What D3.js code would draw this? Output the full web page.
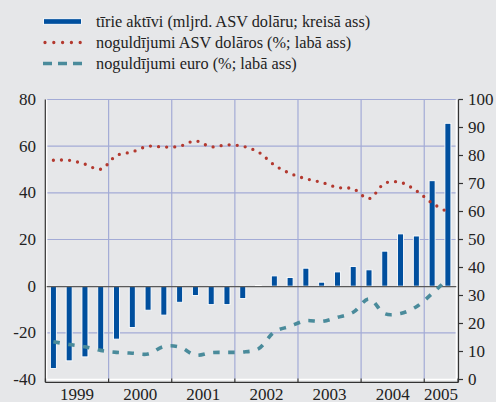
<!DOCTYPE html>
<html>
<head>
<meta charset="utf-8">
<script src="https://cdn.jsdelivr.net/npm/d3@7/dist/d3.min.js"></script>
<style>
  html, body { margin: 0; padding: 0; background: #e6e7e9; }
  svg { display: block; }
</style>
</head>
<body>
<svg id="chart" width="496" height="402"></svg>
<script>
// Quarter positions (fractional years, quarter centres), 1999 Q1 – 2005 Q2
const quarters = [
  1999.125, 1999.375, 1999.625, 1999.875,
  2000.125, 2000.375, 2000.625, 2000.875,
  2001.125, 2001.375, 2001.625, 2001.875,
  2002.125, 2002.375, 2002.625, 2002.875,
  2003.125, 2003.375, 2003.625, 2003.875,
  2004.125, 2004.375, 2004.625, 2004.875,
  2005.125, 2005.375
];

// Net assets, bn USD (left axis)
const netAssets = [
  -35.3, -32.0, -30.3, -27.2,
  -22.7, -17.7, -10.3, -12.4,
  -6.9, -4.0, -7.9, -7.9,
  -5.3, 0.3, 4.4, 3.7,
  7.7, 1.7, 6.1, 8.4,
  7.0, 15.0, 22.4, 21.5,
  45.2, 69.8
];

// Share of deposits in USD, % (right axis)
const usdShare = [
  78.3, 78.3, 76.9, 75.1,
  80.0, 81.3, 83.3, 83.0,
  83.3, 85.2, 83.1, 83.8,
  83.3, 81.2, 76.6, 73.6,
  71.7, 70.4, 68.6, 68.1,
  64.6, 70.1, 70.4, 67.4,
  63.0, 59.8
];

// Share of deposits in euro, % (right axis)
const eurShare = [
  13.5, 12.5, 11.7, 10.4,
  9.7, 9.4, 9.1, 11.8,
  11.6, 8.7, 9.6, 9.7,
  9.8, 11.0, 17.0, 19.0,
  21.0, 20.7, 22.2, 24.0,
  28.8, 23.5, 23.6, 26.0,
  30.7, 36.0
];

const years = [1999, 2000, 2001, 2002, 2003, 2004, 2005];
const leftTicks = [-40, -20, 0, 20, 40, 60, 80];
const rightTicks = [0, 10, 20, 30, 40, 50, 60, 70, 80, 90, 100];

const legendLabels = [
  "tīrie aktīvi (mljrd. ASV dolāru; kreisā ass)",
  "noguldījumi ASV dolāros (%; labā ass)",
  "noguldījumi euro (%; labā ass)"
];

const colors = {
  bar: "#004f9e",
  usd: "#b3392f",
  eur: "#4a8b9b",
  grid: "#a3abd6",
  axis: "#333333",
  text: "#222222"
};
const FONT = "'Liberation Serif', 'Times New Roman', Times, 'DejaVu Serif', serif";

const svg = d3.select("#chart");

const xEnd = 2005.535;
const x = d3.scaleLinear().domain([1999, xEnd]).range([45.5, 458]);
const yL = d3.scaleLinear().domain([-40, 80]).range([379.5, 99.5]);
const yR = d3.scaleLinear().domain([0, 100]).range([379.5, 99.5]);

const plotL = 46.7, plotR = 456.3, plotT = yL(80), plotB = 379.5;

// Grid
const grid = svg.append("g");
grid.selectAll("line.h")
  .data(leftTicks.filter(d => d !== -40 && d !== 0))
  .join("line")
  .attr("x1", plotL).attr("x2", plotR)
  .attr("y1", d => yL(d)).attr("y2", d => yL(d))
  .attr("stroke", colors.grid).attr("stroke-width", 1.2);
grid.selectAll("line.v")
  .data(years.slice(1))
  .join("line")
  .attr("x1", d => x(d)).attr("x2", d => x(d))
  .attr("y1", plotT).attr("y2", plotB)
  .attr("stroke", colors.grid).attr("stroke-width", 1.2);

// White frame inside the axes
svg.append("path")
  .attr("d", `M${plotL},${plotT}V${plotB}H${plotR}V${plotT}`)
  .attr("fill", "none").attr("stroke", "#ffffff").attr("stroke-width", 1.3);

// Bars
const barW = 6;
svg.append("g").selectAll("rect")
  .data(quarters.map((q, i) => ({ q, v: netAssets[i] })))
  .join("rect")
  .attr("x", d => x(d.q) - barW / 2)
  .attr("width", barW)
  .attr("y", d => Math.min(yL(d.v), yL(0)))
  .attr("height", d => Math.max(0.6, Math.abs(yL(d.v) - yL(0))))
  .attr("fill", colors.bar)
  .attr("stroke", "#ffffff").attr("stroke-width", 0.9);

// Zero line
svg.append("line")
  .attr("x1", plotL).attr("x2", plotR)
  .attr("y1", yL(0) + 0.5).attr("y2", yL(0) + 0.5)
  .attr("stroke", "#5a5a5a").attr("stroke-width", 1.3);

// Lines
const line = d3.line()
  .x(d => x(d.q)).y(d => yR(d.v))
  .curve(d3.curveCatmullRom.alpha(0.5));

svg.append("path")
  .datum(quarters.map((q, i) => ({ q, v: eurShare[i] })))
  .attr("d", line)
  .attr("fill", "none")
  .attr("stroke", colors.eur).attr("stroke-width", 3.6)
  .attr("stroke-dasharray", "6.5,8.5");

svg.append("path")
  .datum(quarters.map((q, i) => ({ q, v: usdShare[i] })))
  .attr("d", line)
  .attr("fill", "none")
  .attr("stroke", colors.usd).attr("stroke-width", 3.3)
  .attr("stroke-linecap", "round")
  .attr("stroke-dasharray", "0,8.1");

// Axes lines
const axisG = svg.append("g").attr("stroke", colors.axis).attr("stroke-width", 1.2);
axisG.append("line").attr("x1", 45.3).attr("x2", 45.3).attr("y1", plotT).attr("y2", 382.3);
axisG.append("line").attr("x1", 458.5).attr("x2", 458.5).attr("y1", plotT).attr("y2", 382.3);
axisG.append("line").attr("x1", 45.3).attr("x2", 458.5).attr("y1", 382.3).attr("y2", 382.3);

// Bottom ticks at year boundaries
axisG.selectAll("line.xt")
  .data(years.concat([xEnd]))
  .join("line")
  .attr("x1", d => Math.max(45.3, Math.min(x(d), 458.5)))
  .attr("x2", d => Math.max(45.3, Math.min(x(d), 458.5)))
  .attr("y1", 378.5).attr("y2", 382.3);

// Right ticks
axisG.selectAll("line.rt")
  .data(rightTicks)
  .join("line")
  .attr("x1", 458.5).attr("x2", 463)
  .attr("y1", d => yR(d)).attr("y2", d => yR(d));

const txt = (size) => (sel) => sel
  .attr("font-family", FONT)
  .attr("fill", colors.text)
  .attr("font-size", size);

// Left tick labels
svg.append("g").selectAll("text")
  .data(leftTicks)
  .join("text")
  .call(txt(17))
  .attr("x", 36).attr("y", d => yL(d) + 5.5)
  .attr("text-anchor", "end")
  .text(d => d);

// Right tick labels
svg.append("g").selectAll("text")
  .data(rightTicks)
  .join("text")
  .call(txt(17))
  .attr("x", 468).attr("y", d => yR(d) + 5.5)
  .attr("text-anchor", "start")
  .text(d => d);

// Year labels, centred on each year's span
svg.append("g").selectAll("text")
  .data(years)
  .join("text")
  .call(txt(17))
  .attr("x", d => x((d + Math.min(d + 1, xEnd)) / 2))
  .attr("y", 399.5)
  .attr("text-anchor", "middle")
  .text(d => d);

// Legend
const leg = svg.append("g");
const legY = [21.5, 42.5, 63.5];
leg.append("rect")
  .attr("x", 43.5).attr("y", legY[0] - 2.8).attr("width", 38).attr("height", 5.6)
  .attr("fill", colors.bar).attr("stroke", "#ffffff").attr("stroke-width", 0.9);
leg.append("line")
  .attr("x1", 45).attr("x2", 81).attr("y1", legY[1]).attr("y2", legY[1])
  .attr("stroke", colors.usd).attr("stroke-width", 3.3)
  .attr("stroke-linecap", "round").attr("stroke-dasharray", "0,8.8");
leg.append("line")
  .attr("x1", 43).attr("x2", 82).attr("y1", legY[2]).attr("y2", legY[2])
  .attr("stroke", colors.eur).attr("stroke-width", 3.6)
  .attr("stroke-dasharray", "9,6");
leg.selectAll("text")
  .data(legendLabels)
  .join("text")
  .call(txt(16.3))
  .attr("x", 96).attr("y", (d, i) => legY[i] + 5.5)
  .text(d => d);
</script>
</body>
</html>
